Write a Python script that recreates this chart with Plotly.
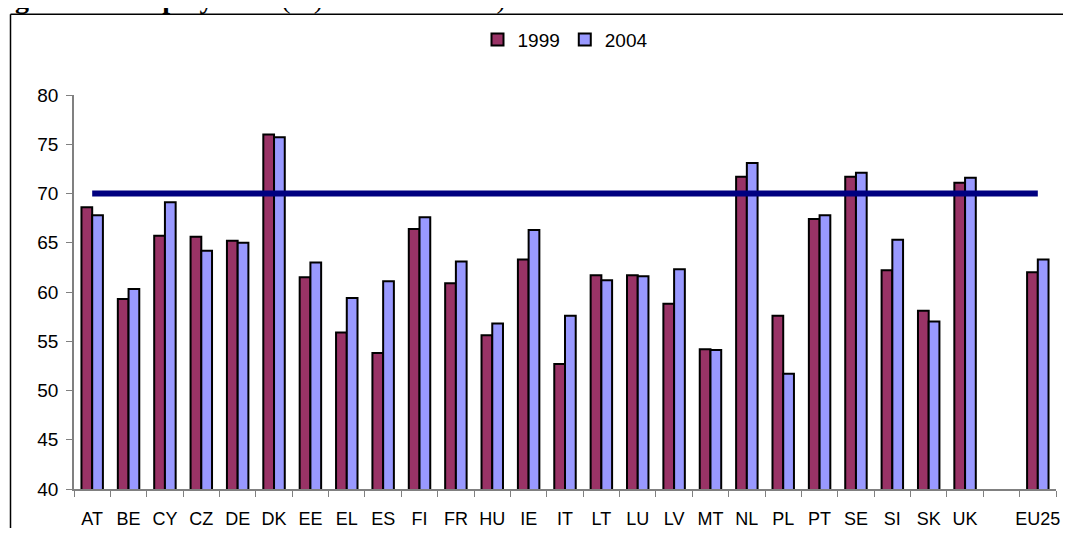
import plotly.graph_objects as go

categories = ["AT", "BE", "CY", "CZ", "DE", "DK", "EE", "EL", "ES", "FI", "FR", "HU", "IE",
              "IT", "LT", "LU", "LV", "MT", "NL", "PL", "PT", "SE", "SI", "SK", "UK", " ", "EU25"]
values_1999 = [68.6, 59.3, 65.7, 65.6, 65.2, 76.0, 61.5, 55.9, 53.8, 66.4, 60.9, 55.6, 63.3,
               52.7, 61.7, 61.7, 58.8, 54.2, 71.7, 57.6, 67.4, 71.7, 62.2, 58.1, 71.1, None, 62.0]
values_2004 = [67.8, 60.3, 69.1, 64.2, 65.0, 75.7, 63.0, 59.4, 61.1, 67.6, 63.1, 56.8, 66.3,
               57.6, 61.2, 61.6, 62.3, 54.1, 73.1, 51.7, 67.8, 72.1, 65.3, 57.0, 71.6, None, 63.3]
target = 70
series_names = ["1999", "2004"]
y_ticks = [40, 45, 50, 55, 60, 65, 70, 75, 80]

# page is rendered with an 8px body margin: work in page pixels, convert to div pixels
OFF = 8
W, H = 1055, 520
PL_, PR_, PT_, PB_ = 74, 1056, 95.3, 489.3          # plot area in page pixels
L, R, T, B = PL_ - OFF, W - (PR_ - OFF), PT_ - OFF, H - (PB_ - OFF)
pw, ph = W - L - R, H - T - B

def px_x(x):
    return (x - OFF - L) / pw

def px_y(y):
    return (H - B - (y - OFF)) / ph

fig = go.Figure()
fig.add_trace(go.Bar(x=categories, y=values_1999, name=series_names[0],
                     marker=dict(color="#993366", line=dict(color="black", width=2))))
fig.add_trace(go.Bar(x=categories, y=values_2004, name=series_names[1],
                     marker=dict(color="#9999FF", line=dict(color="black", width=2))))
fig.add_trace(go.Scatter(x=categories, y=[target] * len(categories), mode="lines",
                         line=dict(color="#000080", width=6), showlegend=False,
                         hoverinfo="skip"))

fig.update_layout(
    width=W, height=H,
    margin=dict(l=L, r=R, t=T, b=B, autoexpand=False),
    paper_bgcolor="white", plot_bgcolor="white",
    barmode="group", bargap=0.41, bargroupgap=0,
    font=dict(family="Liberation Sans, Arial, sans-serif", color="black", size=19),
    showlegend=True,
    legend=dict(orientation="h", x=px_x(565), xanchor="center", y=px_y(40), yanchor="middle",
                font=dict(size=19), itemwidth=30, tracegroupgap=0,
                bgcolor="rgba(0,0,0,0)"),
    xaxis=dict(type="category", tickson="boundaries", ticks="outside", ticklen=6,
               tickangle=0, automargin=False, ticklabelstandoff=13,
               tickcolor="#808080", showline=True, linecolor="#808080", linewidth=1.5,
               tickfont=dict(size=18), showgrid=False, fixedrange=True),
    yaxis=dict(range=[40, 80], tickvals=y_ticks, ticks="outside", ticklen=6,
               automargin=False, ticklabelstandoff=4,
               tickcolor="#808080", showline=True, linecolor="#808080", linewidth=1.5,
               tickfont=dict(size=19), showgrid=False, zeroline=False, fixedrange=True),
    shapes=[
        dict(type="line", xref="paper", yref="paper",
             x0=px_x(10.5), x1=px_x(1100), y0=px_y(14.5), y1=px_y(14.5),
             line=dict(color="black", width=1.5), layer="below"),
        dict(type="line", xref="paper", yref="paper",
             x0=px_x(10.5), x1=px_x(10.5), y0=px_y(14.5), y1=px_y(600),
             line=dict(color="black", width=1.5), layer="below"),
    ],
    annotations=[dict(text="<b>Figure 10: Employment</b> (%) 1999 and 2004)",
                      xref="paper", yref="paper", x=px_x(-12), xanchor="left",
                      y=px_y(16), yanchor="bottom", showarrow=False,
                      font=dict(family="Liberation Serif, Times New Roman, serif", size=28,
                                color="black"))],
)

fig.write_html("out.html")
